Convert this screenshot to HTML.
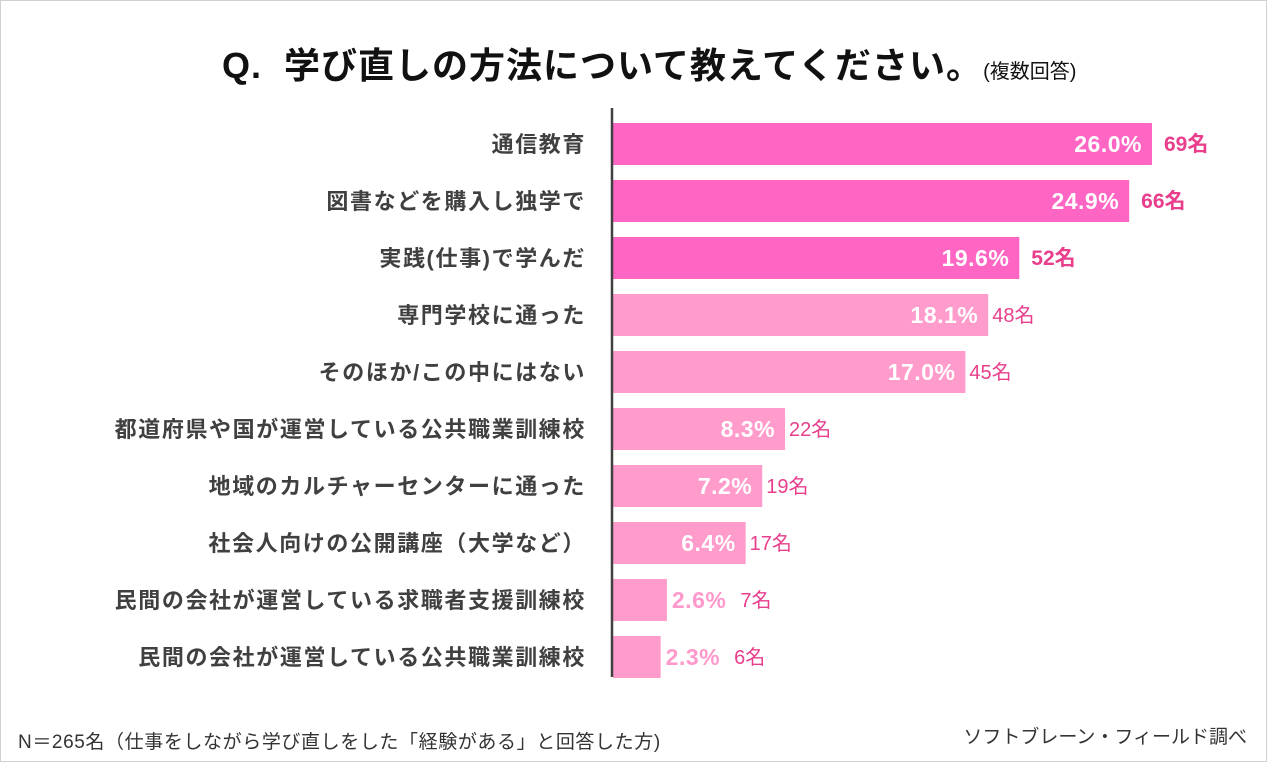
<!DOCTYPE html>
<html><head><meta charset="utf-8"><style>
body{margin:0;width:1267px;height:768px;background:#fff;font-family:"Liberation Sans","Noto Sans CJK JP",sans-serif;overflow:hidden}
#frame{position:absolute;left:0;top:0;width:1265px;height:760px;border:1px solid #d0d0d0}
.t{position:absolute;white-space:nowrap}
</style></head><body>
<div id="frame"></div>
<div class="t" style="left:222px;top:37px;font-size:36px;font-weight:bold;color:#111;letter-spacing:1px">Q.&nbsp; 学び直しの方法について教えてください。<span style="font-size:20px;font-weight:normal;letter-spacing:0">(複数回答)</span></div>
<svg id="chart" width="1267" height="768" style="position:absolute;left:0;top:0"></svg>
<div class="t" style="left:18px;top:727px;font-size:19px;color:#333;letter-spacing:0.6px">N＝265名（仕事をしながら学び直しをした「経験がある」と回答した方)</div>
<div class="t" style="right:20px;top:722px;font-size:19px;color:#333">ソフトブレーン・フィールド調べ</div>
<script>
const categories=["通信教育","図書などを購入し独学で","実践(仕事)で学んだ","専門学校に通った","そのほか/この中にはない","都道府県や国が運営している公共職業訓練校","地域のカルチャーセンターに通った","社会人向けの公開講座（大学など）","民間の会社が運営している求職者支援訓練校","民間の会社が運営している公共職業訓練校"];
const percents=[26.0,24.9,19.6,18.1,17.0,8.3,7.2,6.4,2.6,2.3];
const counts=[69,66,52,48,45,22,19,17,7,6];
const NS="http://www.w3.org/2000/svg";
const svg=document.getElementById('chart');
const x0=613,pxPer=20.73,yTop=123,step=57,barH=42;
const xs=v=>x0+v*pxPer;
const ys=i=>yTop+i*step;
function mk(tag,attrs,txt){const e=document.createElementNS(NS,tag);for(const k in attrs)e.setAttribute(k,attrs[k]);if(txt!==undefined)e.textContent=txt;svg.appendChild(e);return e;}
categories.forEach((c,i)=>{
  const top=i<3, y=ys(i), w=xs(percents[i])-x0, cy=y+barH/2;
  const r=mk('rect',{x:x0,y:y,width:w,height:barH,fill:top?'#ff66c4':'#ff9ccb'});
  
  
  const l=mk('text',{x:586,y:cy+8,'text-anchor':'end','font-size':22,'font-weight':'bold',fill:'#404040','letter-spacing':1.6},c);
  
  
  const inside=percents[i]>5;
  const pt=percents[i].toFixed(1)+'%';
  let endX;
  if(inside){
    const p=mk('text',{x:x0+w-10,y:cy+8,'text-anchor':'end','font-size':23,'font-weight':'bold',fill:'#fff','letter-spacing':0.5},pt);
    
    
    endX=x0+w+(top?12:4);
  }else{
    const p=mk('text',{x:x0+w+5,y:cy+8,'font-size':23,'font-weight':'bold',fill:'#ff99cc','letter-spacing':0.5},pt);
    
    
    endX=x0+w+5+p.getComputedTextLength()+14;
  }
  const n=mk('text',{x:endX,y:cy+7,'font-size':top?21:20,'font-weight':top?'bold':'normal',fill:'#e83e8c'},counts[i]+'名');
  
  
});
const ax=mk('line',{x1:x0-1,y1:108,x2:x0-1,y2:677,stroke:'#404040','stroke-width':2.5});


</script>
</body></html>
